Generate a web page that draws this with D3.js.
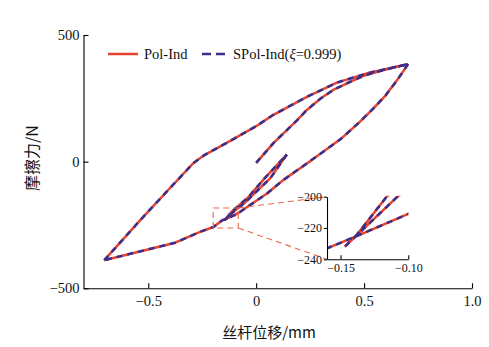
<!DOCTYPE html>
<html><head><meta charset="utf-8">
<script src="https://cdn.jsdelivr.net/npm/d3@7"></script>
<style>body{margin:0;background:#fff}svg{display:block}</style>
</head><body><svg id="c" width="489" height="347"></svg>
<script>
// ---- data (displacement mm, friction N) ----
const innerBranch = [[0,-5],[0.08,73],[0.19,164],[0.235,204],[0.30,250],[0.357,283],[0.435,315],[0.50,340],[0.60,364],[0.704,385]];
const descBranch = [[0.704,385],[0.65,318],[0.60,262],[0.54,207],[0.48,157],[0.39,88],[0.235,-7],[0.125,-73],[0.05,-126],[-0.074,-198],[-0.10,-211],[-0.139,-225.5],[-0.16,-233],[-0.198,-258],[-0.26,-277],[-0.375,-320],[-0.704,-389]];
const upperBranch = [[-0.704,-389],[-0.62,-310],[-0.537,-231],[-0.40,-105],[-0.29,-5],[-0.24,26],[-0.12,82],[0,140],[0.08,185],[0.235,256],[0.374,312],[0.52,350],[0.704,385]];
const loopUp = [[-0.139,-225.5],[-0.116,-200],[-0.036,-140],[0.042,-63],[0.142,28]];
const loopDown = [[0.142,28],[0.065,-66],[-0.05,-160],[-0.108,-200],[-0.147,-232]];
const branches = [innerBranch, descBranch, upperBranch, loopUp, loopDown];

const xTicks = [-0.5, 0, 0.5, 1.0];
const yTicks = [-500, 0, 500];
const insetXTicks = [-0.15, -0.10];
const insetYTicks = [-240, -220, -200];
const zoomBoxX = [-0.199, -0.083];
const zoomBoxY = [-262, -183];
const seriesNames = ["Pol-Ind", "SPol-Ind(\u03BE=0.999)"];

const RED = "#e8412f", BLUE = "#3a2f8c";
const svg = d3.select("#c");
const serif = "'Liberation Serif','Times New Roman',serif";
const fmt = v => (v < 0 ? "\u2212" : "") + Math.abs(v);

// ---- main scales ----
const x = d3.scaleLinear().domain([-0.8, 1.0]).range([83.5, 472]);
const y = d3.scaleLinear().domain([-500, 500]).range([288.3, 35]);

const line = d3.line().x(d => x(d[0])).y(d => y(d[1]));

// axes
const gx = svg.append("g").attr("transform", `translate(0,${y(-500)})`)
  .call(d3.axisBottom(x).tickValues(xTicks).tickSize(-5).tickSizeOuter(0).tickPadding(10)
    .tickFormat(d => d === 0 ? "0" : (d < 0 ? "\u2212" : "") + Math.abs(d).toFixed(1)));
const gy = svg.append("g").attr("transform", `translate(${x(-0.8)},0)`)
  .call(d3.axisLeft(y).tickValues(yTicks).tickSize(-5).tickSizeOuter(0).tickPadding(4).tickFormat(fmt));
[gx, gy].forEach(g => {
  g.select(".domain").attr("stroke", "#000").attr("stroke-width", 1.1);
  g.selectAll(".tick line").attr("stroke", "#000").attr("stroke-width", 1.1);
  g.selectAll("text").attr("font-family", serif).attr("font-size", 14.5).attr("fill", "#111");
});
gx.selectAll("text").attr("dy", "0.55em");

// curves
function drawCurves(g, lineGen) {
  branches.forEach(b => {
    g.append("path").attr("d", lineGen(b)).attr("fill", "none").attr("stroke", RED)
      .attr("stroke-width", 2.5).attr("stroke-linejoin", "round");
  });
  branches.forEach(b => {
    g.append("path").attr("d", lineGen(b)).attr("fill", "none").attr("stroke", BLUE)
      .attr("stroke-width", 2.5).attr("stroke-dasharray", "6,5").attr("stroke-linejoin", "round");
  });
}
drawCurves(svg.append("g"), line);

// ---- inset ----
const ix = d3.scaleLinear().domain([-0.16, -0.10]).range([327, 408.3]);
const iy = d3.scaleLinear().domain([-240, -200]).range([259.3, 196.7]);

// zoom box and connector lines
const dashStyle = s => s.attr("fill", "none").attr("stroke", "#ec6a4c").attr("stroke-width", 1.1).attr("stroke-dasharray", "6,4");
dashStyle(svg.append("rect").attr("x", x(zoomBoxX[0])).attr("y", y(zoomBoxY[1]))
  .attr("width", x(zoomBoxX[1]) - x(zoomBoxX[0])).attr("height", y(zoomBoxY[0]) - y(zoomBoxY[1])));
dashStyle(svg.append("line").attr("x1", x(zoomBoxX[1])).attr("y1", y(zoomBoxY[1]))
  .attr("x2", ix(-0.16)).attr("y2", iy(-200)));
dashStyle(svg.append("line").attr("x1", x(zoomBoxX[1])).attr("y1", y(zoomBoxY[0]))
  .attr("x2", ix(-0.16)).attr("y2", iy(-240)));

svg.append("defs").append("clipPath").attr("id", "ic").append("rect")
  .attr("x", ix(-0.16)).attr("y", iy(-200) - 1).attr("width", ix(-0.10) - ix(-0.16)).attr("height", iy(-240) - iy(-200) + 1);
const iline = d3.line().x(d => ix(d[0])).y(d => iy(d[1]));
drawCurves(svg.append("g").attr("clip-path", "url(#ic)"), iline);

const igx = svg.append("g").attr("transform", `translate(0,${iy(-240)})`)
  .call(d3.axisBottom(ix).tickValues(insetXTicks).tickSize(-4).tickSizeOuter(0).tickPadding(7).tickFormat(d => "\u2212" + Math.abs(d).toFixed(2)));
const igy = svg.append("g").attr("transform", `translate(${ix(-0.16)},0)`)
  .call(d3.axisLeft(iy).tickValues(insetYTicks).tickSize(3).tickSizeOuter(0).tickPadding(2).tickFormat(fmt));
[igx, igy].forEach(g => {
  g.select(".domain").attr("stroke", "#000").attr("stroke-width", 1.1);
  g.selectAll(".tick line").attr("stroke", "#000").attr("stroke-width", 1.1);
  g.selectAll("text").attr("font-family", serif).attr("font-size", 12).attr("fill", "#111");
});
igx.selectAll("text").attr("dy", "0.5em");

// ---- legend ----
const lg = svg.append("g");
lg.append("line").attr("x1", 108).attr("x2", 138).attr("y1", 54).attr("y2", 54).attr("stroke", RED).attr("stroke-width", 2.5);
lg.append("text").attr("x", 144).attr("y", 59).text(seriesNames[0]).attr("font-family", serif).attr("font-size", 14.5).attr("fill", "#111");
lg.append("line").attr("x1", 202).attr("x2", 230).attr("y1", 54).attr("y2", 54).attr("stroke", BLUE).attr("stroke-width", 2.5).attr("stroke-dasharray", "9,5");
const t2 = lg.append("text").attr("x", 233).attr("y", 59).attr("font-family", serif).attr("font-size", 14.5).attr("fill", "#111");
t2.append("tspan").text("SPol-Ind(");
t2.append("tspan").attr("font-style", "italic").text("\u03BE");
t2.append("tspan").text("=0.999)");

// ---- axis titles ----
svg.append("text").attr("transform", "translate(38,158) rotate(-90)").attr("text-anchor", "middle")
  .attr("font-family", "'Noto Sans CJK SC',sans-serif").attr("font-size", 16).attr("fill", "#111").text("摩擦力/N");
svg.append("text").attr("x", 269).attr("y", 338).attr("text-anchor", "middle")
  .attr("font-family", "'Noto Sans CJK SC',sans-serif").attr("font-size", 15).attr("fill", "#111").text("丝杆位移/mm");
</script></body></html>
